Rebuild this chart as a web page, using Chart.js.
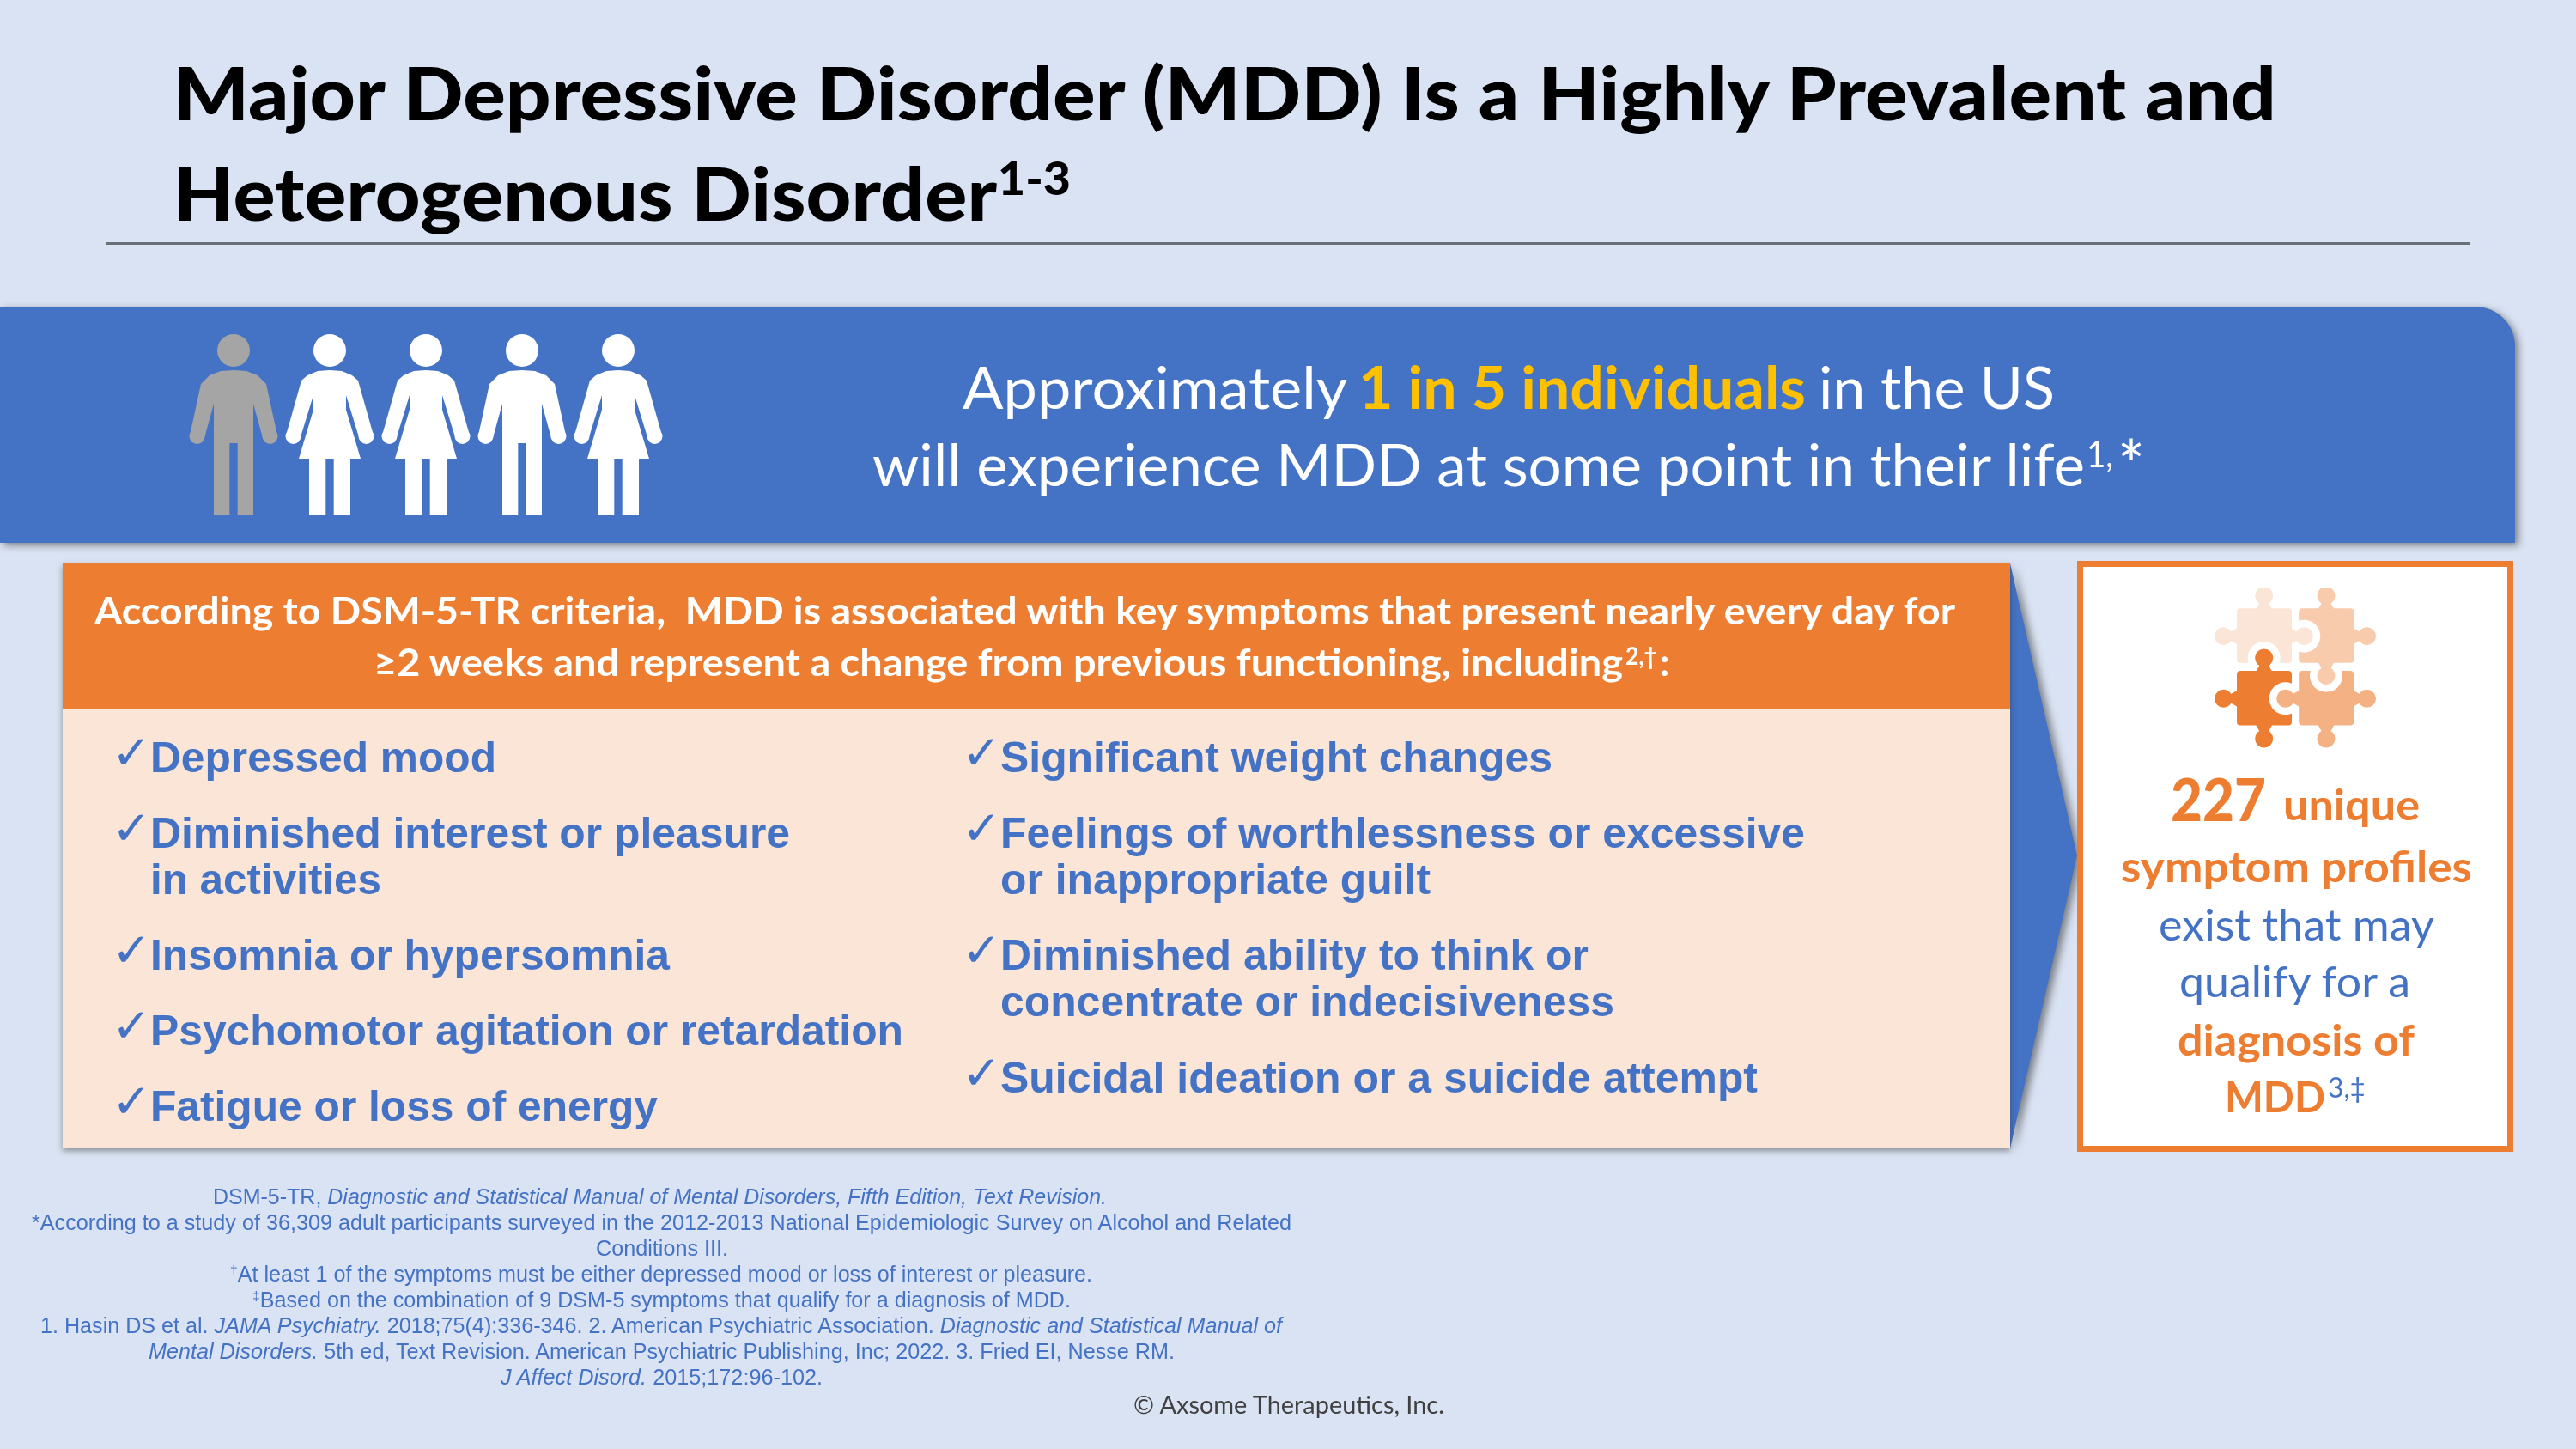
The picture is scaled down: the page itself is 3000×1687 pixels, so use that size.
<!DOCTYPE html>
<html>
<head>
<meta charset="utf-8">
<title>Major Depressive Disorder</title>
<script src="https://cdn.jsdelivr.net/npm/chart.js@4"></script>
<style>
html, body { margin: 0; padding: 0; background: #DAE3F3; }
#slide { position: relative; width: 3000px; height: 1687px; overflow: hidden; background: #DAE3F3; }
#slide > div, #slide > svg, #slide > canvas { position: absolute; }
.t { white-space: nowrap; transform-origin: 0 0; line-height: 1; }
.t sup { font-size: 62%; line-height: 0; vertical-align: baseline; position: relative; top: -0.5em; }
.strut { display: inline-block; width: 0; height: 0; }
</style>
</head>
<body>
<div id="slide">
	<div style="left:124px;top:282px;width:2752px;height:3px;background:#6b6f78"></div>
	<div style="left:0;top:357px;width:2929px;height:275px;background:#4472C4;border-top-right-radius:46px;box-shadow:4px 3px 9px rgba(40,40,40,.5)"></div>
	<svg style="left:2300px;top:640px;filter:drop-shadow(5px 3px 5px rgba(40,40,40,.55))" width="130" height="710"><polygon points="41,16 119,356 41,697" fill="#4472C4"/></svg>
	<div style="left:73px;top:656px;width:2268px;height:681px;background:#FBE5D6;box-shadow:0 3px 7px rgba(40,40,40,.45)"></div>
	<div style="left:73px;top:656px;width:2268px;height:169px;background:#ED7D31"></div>
	<div style="left:2419px;top:653px;width:494px;height:674px;background:#fff;border:7px solid #ED7D31"></div>
	<svg id="puzzle" style="left:2579px;top:684px" width="188" height="190" viewBox="0 0 188 190"></svg>
	<canvas id="people" width="560" height="300" style="left:216px;top:344.5px"></canvas>
</div>

<script>
// pictogram data: one in five individuals
const individuals = ['Individual 1', 'Individual 2', 'Individual 3', 'Individual 4', 'Individual 5'];
const individualFigures = ['man', 'woman', 'woman', 'man', 'woman'];
const individualHasMdd = [true, false, false, false, false];
const individualValues = [1, 1, 1, 1, 1];

// slide texts
const titleLines = ['Major Depressive Disorder (MDD) Is a Highly Prevalent and', 'Heterogenous Disorder'];
const symptomsLeft = ['Depressed mood', 'Diminished interest or pleasure', 'in activities', 'Insomnia or hypersomnia', 'Psychomotor agitation or retardation', 'Fatigue or loss of energy'];
const symptomsRight = ['Significant weight changes', 'Feelings of worthlessness or excessive', 'or inappropriate guilt', 'Diminished ability to think or', 'concentrate or indecisiveness', 'Suicidal ideation or a suicide attempt'];
const footnotes = [
	'DSM-5-TR, <i>Diagnostic and Statistical Manual of Mental Disorders, Fifth Edition, Text Revision.</i>',
	'*According to a study of 36,309 adult participants surveyed in the 2012-2013 National Epidemiologic Survey on Alcohol and Related',
	'Conditions III.',
	'<sup>†</sup>At least 1 of the symptoms must be either depressed mood or loss of interest or pleasure.',
	'<sup>‡</sup>Based on the combination of 9 DSM-5 symptoms that qualify for a diagnosis of MDD.',
	'1. Hasin DS et al. <i>JAMA Psychiatry.</i> 2018;75(4):336-346. 2. American Psychiatric Association. <i>Diagnostic and Statistical Manual of</i>',
	'<i>Mental Disorders.</i> 5th ed, Text Revision. American Psychiatric Publishing, Inc; 2022. 3. Fried EI, Nesse RM.',
	'<i>J Affect Disord.</i> 2015;172:96-102.'
];

const CALIBRI = 'Lato, sans-serif';
const ARIAL = '"Liberation Sans", Arial, sans-serif';
const BLUE = '#4472C4';
const ORANGE = '#ED7D31';

// puts one line of text by its left edge, baseline and width
function putText(html, x, base, width, size, font, weight, color) {
	var slide = document.getElementById('slide');
	var el = document.createElement('div');
	el.className = 't';
	el.innerHTML = '<span class="strut"></span>' + html;
	el.style.cssText = 'left:' + x + 'px;top:0;font-family:' + font.replace(/"/g, "'") + ';font-size:' + size + 'px;font-weight:' + weight + ';color:' + color;
	slide.appendChild(el);
	var baseNow = el.querySelector('.strut').getBoundingClientRect().bottom;
	el.style.top = (base - baseNow) + 'px';
	if (width) {
		el.style.transform = 'scaleX(' + (width / el.getBoundingClientRect().width) + ')';
	}
	return el;
}

function makeFigure(kind, color) {
	var c = document.createElement('canvas');
	c.width = 108;
	c.height = 212;
	var g = c.getContext('2d');
	var half = kind === 'man'
		? [[0, 42], [15, 43], [28, 48], [38, 58], [51, 118], [34, 121], [23, 81], [23, 211], [4.7, 211], [4.7, 127]]
		: [[0, 42], [14, 43], [26, 48], [33, 54], [51, 118], [34, 120], [19, 71], [19, 88], [36, 145], [24, 145], [24, 211], [4.7, 211], [4.7, 145]];
	g.translate(54, 0);
	g.fillStyle = color;
	g.beginPath();
	g.arc(0, 19, 19, 0, Math.PI * 2);
	g.fill();
	g.beginPath();
	half.forEach(function (p, i) { i ? g.lineTo(p[0], p[1]) : g.moveTo(p[0], p[1]); });
	half.slice().reverse().forEach(function (p) { g.lineTo(-p[0], p[1]); });
	g.closePath();
	g.fill();
	[-1, 1].forEach(function (side) {
		g.beginPath();
		g.arc(side * 42.5, 119, 9, 0, Math.PI * 2);
		g.fill();
	});
	return c;
}

const peopleChart = new Chart(document.getElementById('people'), {
	type: 'line',
	data: {
		labels: individuals,
		datasets: [{
			label: 'Individuals',
			data: individualValues,
			showLine: false,
			clip: false,
			pointRadius: 10,
			pointHoverRadius: 10,
			pointStyle: individualFigures.map(function (kind, i) {
				return makeFigure(kind, individualHasMdd[i] ? '#A5A5A5' : '#FFFFFF');
			})
		}]
	},
	options: {
		responsive: false,
		animation: false,
		devicePixelRatio: 1,
		layout: { padding: 0, autoPadding: false },
		plugins: { legend: { display: false }, tooltip: { enabled: false } },
		scales: {
			x: { display: false, offset: true },
			y: { display: false, min: 0, max: 2 }
		}
	}
});

// puzzle icon, knob(x, y, dx, dy) points from the knob centre to the piece body
function knob(cx, cy, dx, dy, color) {
	var px = dy, py = dx;
	var nx = cx + dx * 8, ny = cy + dy * 8, ex = cx + dx * 17, ey = cy + dy * 17;
	return '<circle cx="' + cx + '" cy="' + cy + '" r="10.5" fill="' + color + '"/>' +
		'<polygon fill="' + color + '" points="' +
		(nx + px * 5) + ',' + (ny + py * 5) + ' ' + (nx - px * 5) + ',' + (ny - py * 5) + ' ' +
		(ex - px * 10) + ',' + (ey - py * 10) + ' ' + (ex + px * 10) + ',' + (ey + py * 10) + '"/>';
}
function body(x, y, color) {
	return '<rect x="' + x + '" y="' + y + '" width="64" height="63.5" rx="4" fill="' + color + '"/>';
}
function socket(cx, cy, extra) {
	return '<circle cx="' + cx + '" cy="' + cy + '" r="19" fill="#fff"' + (extra || '') + '/>';
}
const P1 = '#FBE5D6', P2 = '#F8CBAD', P3 = '#ED7D31', P4 = '#F4B183';
document.getElementById('puzzle').innerHTML =
	'<clipPath id="below"><rect x="90" y="92" width="90" height="40"/></clipPath>' +
	body(98.2, 24.3, P2) + knob(130, 9.5, 0, 1, P2) + knob(177.5, 56.7, -1, 0, P2) +
	socket(104.3, 56.7) +
	body(26, 24.3, P1) + knob(57.7, 9.5, 0, 1, P1) + knob(10.5, 56.7, 1, 0, P1) + knob(104.3, 56.7, -1, 0, P1) +
	socket(57.7, 82) +
	body(26, 97, P3) + knob(57.7, 82, 0, 1, P3) + knob(10.5, 129.3, 1, 0, P3) + knob(57.7, 176, 0, -1, P3) +
	socket(82.7, 129.3) +
	body(98.2, 97, P4) + knob(82.7, 129.3, 1, 0, P4) + knob(177.5, 129.3, -1, 0, P4) + knob(130, 176, 0, -1, P4) +
	socket(130, 102.7, ' clip-path="url(#below)"') +
	knob(130, 102.7, 0, -1, P2);

// title
putText(titleLines[0], 202, 140, 2449, 86, CALIBRI, 900, '#000');
putText(titleLines[1], 202, 257, 959, 86, CALIBRI, 900, '#000');
putText('1-3', 1162, 227, 85, 53, CALIBRI, 900, '#000');

// banner
putText('Approximately', 1121, 476, 448, 68, CALIBRI, 400, '#fff');
putText('1 in 5 individuals', 1582, 476, 521, 68, CALIBRI, 700, '#FFC000');
putText('in the US', 2118, 476, 275, 68, CALIBRI, 400, '#fff');
putText('will experience MDD at some point in their life', 1016, 566, 1412, 68, CALIBRI, 400, '#fff');
putText('1,', 2430, 544, 31, 42, CALIBRI, 400, '#fff');
putText('*', 2466, 570, 32, 80, CALIBRI, 400, '#fff');

// orange header
putText('According to DSM-5-TR criteria,&nbsp; MDD is associated with key symptoms that present nearly every day for', 110, 727, 2167, 44, CALIBRI, 700, '#fff');
putText('≥2 weeks and represent a change from previous functioning, including', 435, 787, 1455, 44, CALIBRI, 700, '#fff');
putText('2,†', 1893, 774, 37, 28, CALIBRI, 700, '#fff');
putText(':', 1933, 787, 0, 44, CALIBRI, 700, '#fff');

// symptom lists
const leftBases = [899, 987, 1041, 1129, 1217, 1305];
const leftWidths = [403, 745, 269, 605, 877, 591];
const rightBases = [899, 987, 1041, 1129, 1183, 1272];
const rightWidths = [643, 937, 501, 685, 715, 882];
symptomsLeft.forEach(function (s, i) {
	putText(s, 175, leftBases[i], leftWidths[i], 50, ARIAL, 700, BLUE);
	if (i !== 2) putText('✓', 130, leftBases[i] - 4, 46, 55, '"DejaVu Sans"', 400, BLUE);
});
symptomsRight.forEach(function (s, i) {
	putText(s, 1165, rightBases[i], rightWidths[i], 50, ARIAL, 700, BLUE);
	if (i !== 2 && i !== 4) putText('✓', 1120, rightBases[i] - 4, 46, 55, '"DejaVu Sans"', 400, BLUE);
});

// right box
putText('227', 2528, 956, 111, 68, CALIBRI, 900, ORANGE);
putText('unique', 2659, 955, 159, 50, CALIBRI, 700, ORANGE);
putText('symptom profiles', 2470, 1027, 409, 50, CALIBRI, 700, ORANGE);
putText('exist that may', 2514, 1095, 321, 50, CALIBRI, 400, BLUE);
putText('qualify for a', 2538, 1161, 269, 50, CALIBRI, 400, BLUE);
putText('diagnosis of', 2536, 1229, 276, 50, CALIBRI, 700, ORANGE);
putText('MDD', 2591, 1295, 117, 50, CALIBRI, 700, ORANGE);
putText('3,‡', 2711, 1278, 44, 32, CALIBRI, 400, BLUE);

// footnotes
const footLeft = [248, 37, 694, 268, 294, 47, 173, 583];
const footWidths = [1041, 1467, 154, 1004, 953, 1446, 1195, 375];
footnotes.forEach(function (s, i) {
	putText(s, footLeft[i], 1402 + i * 30, footWidths[i], 25, ARIAL, 400, BLUE);
});
putText('© Axsome Therapeutics, Inc.', 1320, 1646, 362, 29, CALIBRI, 400, '#404040');
</script>
</body>
</html>
